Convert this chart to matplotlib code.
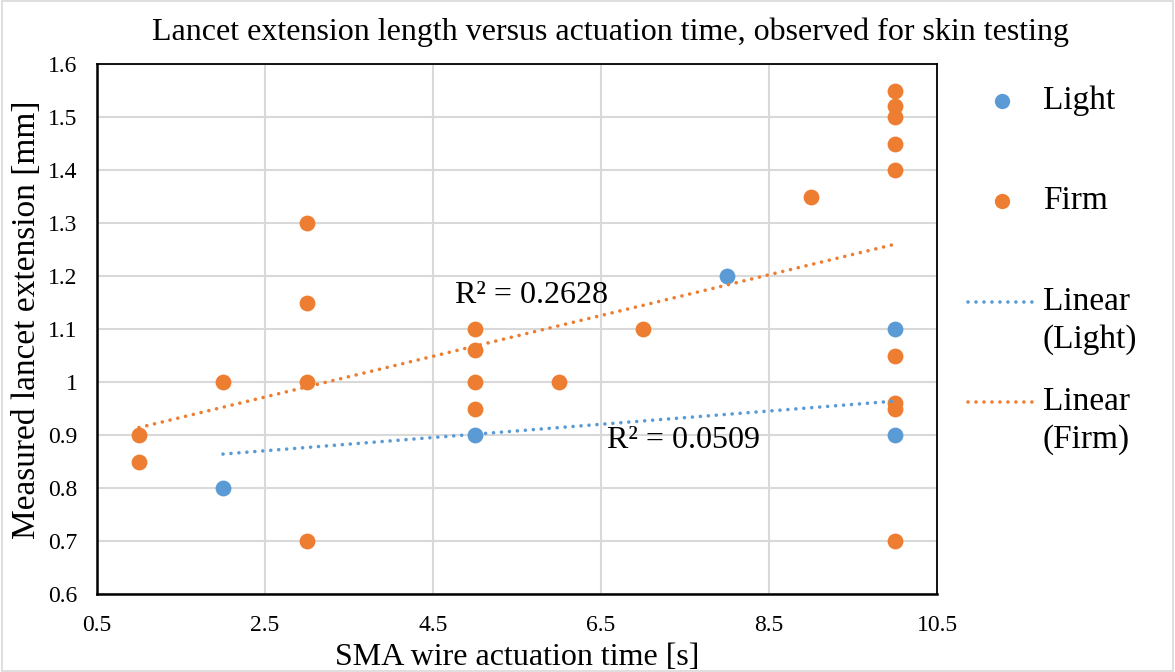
import matplotlib
matplotlib.use("Agg")
import matplotlib.pyplot as plt
from matplotlib.patches import Rectangle

plt.rcParams['font.family'] = ['Liberation Serif', 'DejaVu Serif']

# ---- data ----
light_x = [2, 5, 8, 10, 10]
light_y = [0.8, 0.9, 1.2, 1.1, 0.9]

firm_x = [1, 1, 2, 3, 3, 3, 3, 5, 5, 5, 5, 6, 7, 9, 10, 10, 10, 10, 10, 10, 10, 10, 10]
firm_y = [0.9, 0.85, 1.0, 1.3, 1.15, 1.0, 0.7, 1.1, 1.06, 1.0, 0.95, 1.0, 1.1, 1.35,
          1.55, 1.52, 1.5, 1.45, 1.4, 1.05, 0.96, 0.95, 0.7]

# linear trendlines (endpoints)
trend_light_x = [2, 10]
trend_light_y = [0.864, 0.964]
trend_firm_x = [1, 10]
trend_firm_y = [0.914, 1.260]

r2_light = "R² = 0.0509"
r2_firm = "R² = 0.2628"

x_ticks = [0.5, 2.5, 4.5, 6.5, 8.5, 10.5]
y_ticks = [0.6, 0.7, 0.8, 0.9, 1.0, 1.1, 1.2, 1.3, 1.4, 1.5, 1.6]
y_tick_labels = ["0.6", "0.7", "0.8", "0.9", "1", "1.1", "1.2", "1.3", "1.4", "1.5", "1.6"]

title = "Lancet extension length versus actuation time, observed for skin testing"
xlabel = "SMA wire actuation time [s]"
ylabel = "Measured lancet extension [mm]"

BLUE = "#5B9BD5"
ORANGE = "#ED7D31"
GRID = "#D9D9D9"

fig = plt.figure(figsize=(11.75, 6.72), dpi=100)
ax = fig.add_axes([97/1175, 1-594/672, (937-97)/1175, (594-64)/672])

# outer chart border
fig.patches.append(Rectangle((0.002, 0.002), 0.996, 0.996, transform=fig.transFigure,
                             fill=False, edgecolor=GRID, lw=1.2))

ax.set_xlim(0.5, 10.5)
ax.set_ylim(0.6, 1.6)
ax.set_xticks(x_ticks)
ax.set_xticklabels([str(v) for v in x_ticks])
ax.set_yticks(y_ticks)
ax.set_yticklabels(y_tick_labels)
ax.grid(True, color=GRID, lw=1.5, zorder=0)
ax.set_axisbelow(True)
ax.tick_params(length=0, labelsize=17)
ax.tick_params(axis='y', pad=14)
ax.tick_params(axis='x', pad=15)
for s in ax.spines.values():
    s.set_color('black')
    s.set_linewidth(1.3)
ax.spines['left'].set_linewidth(1.8)
ax.spines['bottom'].set_linewidth(1.8)

dot_style = dict(lw=2.6, linestyle=(0, (0.01, 2.2)), dash_capstyle='round')

ax.scatter(light_x, light_y, s=130, color=BLUE, zorder=3, linewidths=0)
ax.scatter(firm_x, firm_y, s=130, color=ORANGE, zorder=4, linewidths=0)
ax.plot(trend_light_x, trend_light_y, color=BLUE, zorder=5, **dot_style)
ax.plot(trend_firm_x, trend_firm_y, color=ORANGE, zorder=5, **dot_style)

ax.text(4.76, 1.164, r2_firm, fontsize=23, va='center', ha='left', zorder=6)
ax.text(6.57, 0.889, r2_light, fontsize=23, va='center', ha='left', zorder=6)

fig.text(611/1175, 1-32/672, title, fontsize=23, ha='center', va='center')
ax.set_xlabel(xlabel, fontsize=23)
ax.set_ylabel(ylabel, fontsize=24)
ax.xaxis.set_label_coords(0.5, -0.093)
ax.yaxis.set_label_coords(-0.0655, 0.517)

# legend drawn in its own axes (pixel coordinates)
lax = fig.add_axes([0, 0, 1, 1], facecolor='none')
lax.set_xlim(0, 1175)
lax.set_ylim(672, 0)
lax.axis('off')
lax.plot([1002], [101], 'o', ms=11, color=BLUE, mec='none')
lax.plot([1002], [201], 'o', ms=11, color=ORANGE, mec='none')
lax.plot([968, 1036], [302, 302], color=BLUE, **dot_style)
lax.plot([968, 1036], [402, 402], color=ORANGE, **dot_style)
lfs = 24
lax.text(1043, 101, "Light", fontsize=lfs, va='center', ha='left')
lax.text(1043, 201, "Firm", fontsize=lfs, va='center', ha='left')
lax.text(1043, 302, "Linear", fontsize=lfs, va='center', ha='left')
lax.text(1043, 340, "(Light)", fontsize=lfs, va='center', ha='left')
lax.text(1043, 402, "Linear", fontsize=lfs, va='center', ha='left')
lax.text(1043, 440, "(Firm)", fontsize=lfs, va='center', ha='left')

fig.savefig("out.png", dpi=100)
